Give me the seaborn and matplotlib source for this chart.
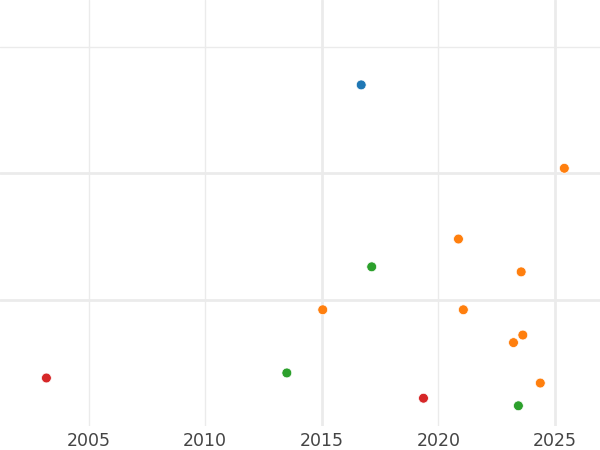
import numpy as np
import pandas as pd
import matplotlib
matplotlib.use("Agg")
import matplotlib.pyplot as plt
import seaborn as sns
from matplotlib.ticker import FixedLocator

# data
years = [2016.69, 2025.40, 2020.86, 2017.14, 2023.55, 2015.04, 2021.07,
         2023.62, 2023.22, 2024.37, 2019.36, 2023.43, 2003.19, 2013.50]
values = [2.70, 2.04, 1.48, 1.26, 1.22, 0.92, 0.92,
          0.72, 0.66, 0.34, 0.22, 0.16, 0.38, 0.42]
groups = ["A", "B", "B", "C", "B", "B", "B",
          "B", "B", "B", "D", "C", "D", "C"]
group_order = ["A", "B", "C", "D"]
palette = ["#1f77b4", "#ff7f0e", "#2ca02c", "#d62728"]

major_x = [2015, 2025]
minor_x = [2005, 2010, 2020]
major_y = [1, 2]
minor_y = [3]
xlabel_ticks = [2005, 2010, 2015, 2020, 2025]

df = pd.DataFrame({"year": years, "value": values, "group": groups})

sns.set_style("white")
fig = plt.figure(figsize=(6, 4.5), dpi=100)
ax = fig.add_axes([0, 1 - 426 / 450, 1, 426 / 450])

ax.set_xlim(2001.2, 2026.93)
ax.set_ylim(0, 3.372)

# grid: thick major lines, thin minor lines
for x in major_x:
    ax.axvline(x, color="#ebebeb", lw=2, zorder=0)
for x in minor_x:
    ax.axvline(x, color="#ebebeb", lw=1, zorder=0)
for y in major_y:
    ax.axhline(y, color="#ebebeb", lw=2, zorder=0)
for y in minor_y:
    ax.axhline(y, color="#ebebeb", lw=1, zorder=0)

sns.scatterplot(data=df, x="year", y="value", hue="group", hue_order=group_order,
                palette=palette, s=50, edgecolor="white", linewidth=0.5,
                legend=False, ax=ax, zorder=3)

ax.xaxis.set_major_locator(FixedLocator(xlabel_ticks))
ax.set_xticklabels([str(t) for t in xlabel_ticks])
ax.tick_params(axis="x", length=0, pad=4, labelsize=12.5, labelcolor="#444444")
ax.set_yticks([])
ax.set_xlabel("")
ax.set_ylabel("")
for sp in ax.spines.values():
    sp.set_visible(False)

fig.savefig("out.png", dpi=100)
